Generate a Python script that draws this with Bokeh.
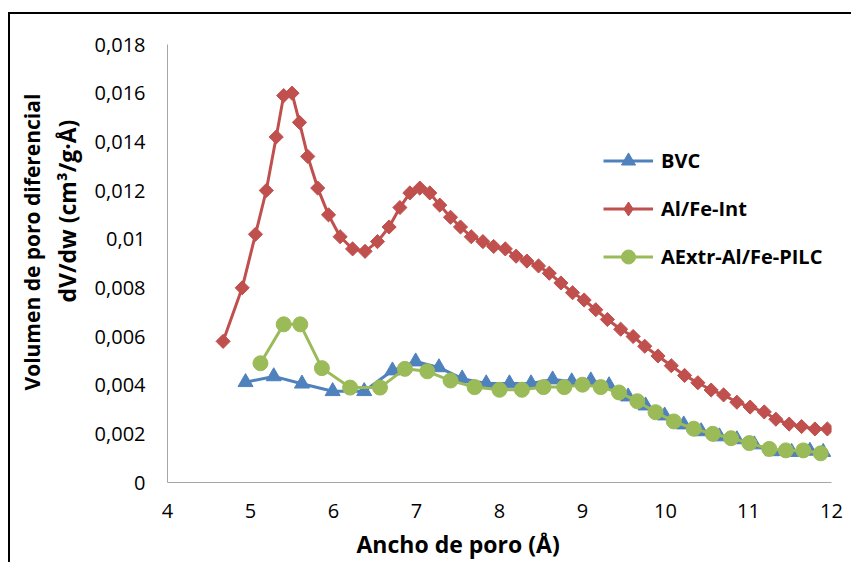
import math

from bokeh.plotting import figure
from bokeh.models import Legend, LegendItem, Title, FixedTicker, Range1d
from bokeh.embed import file_html
from bokeh.resources import INLINE

# Pore width (Å) and differential pore volume dV/dw (cm³/g·Å)
bvc_x = [4.94, 5.28, 5.62, 5.99, 6.37, 6.71, 6.99, 7.27, 7.55, 7.84, 8.12, 8.38, 8.64, 8.87,
         9.10, 9.32, 9.55, 9.76, 9.99, 10.22, 10.43, 10.65, 10.86, 11.07, 11.29, 11.52, 11.74, 11.90]
bvc_y = [0.00412, 0.00436, 0.00406, 0.00375, 0.00375, 0.00460, 0.00497, 0.00473, 0.00427, 0.00407,
         0.00407, 0.00407, 0.00423, 0.00415, 0.00419, 0.00399, 0.00353, 0.00316, 0.00275, 0.00238,
         0.00210, 0.00189, 0.00177, 0.00156, 0.00128, 0.00125, 0.00130, 0.00125]

int_x = [4.67, 4.90, 5.06, 5.19, 5.31, 5.40, 5.50, 5.59, 5.69, 5.81, 5.94, 6.08, 6.23, 6.38,
         6.53, 6.67, 6.80, 6.92, 7.04, 7.16, 7.28, 7.41, 7.53, 7.66, 7.80, 7.93, 8.07, 8.20,
         8.33, 8.47, 8.60, 8.74, 8.88, 9.02, 9.16, 9.30, 9.46, 9.61, 9.75, 9.91, 10.07, 10.23,
         10.39, 10.55, 10.70, 10.86, 11.02, 11.19, 11.33, 11.49, 11.64, 11.80, 11.95]
int_y = [0.0058, 0.0080, 0.0102, 0.0120, 0.0142, 0.0159, 0.0160, 0.0148, 0.0134, 0.0121, 0.0110,
         0.0101, 0.0096, 0.0095, 0.0099, 0.0105, 0.0113, 0.0119, 0.0121, 0.0119, 0.0114, 0.0109,
         0.0105, 0.0101, 0.0099, 0.0097, 0.0096, 0.0093, 0.0091, 0.0089, 0.0086, 0.0082, 0.0078,
         0.0075, 0.0071, 0.0067, 0.0063, 0.0060, 0.0056, 0.0052, 0.0048, 0.0044, 0.0041, 0.0038,
         0.0036, 0.0033, 0.0031, 0.0029, 0.0026, 0.0024, 0.0023, 0.0022, 0.0022]

pilc_x = [5.12, 5.40, 5.60, 5.86, 6.20, 6.56, 6.86, 7.13, 7.41, 7.70, 8.00, 8.27, 8.53, 8.78,
          9.00, 9.22, 9.44, 9.66, 9.88, 10.10, 10.34, 10.57, 10.79, 11.01, 11.25, 11.45, 11.66, 11.87]
pilc_y = [0.00490, 0.00650, 0.00650, 0.00470, 0.00390, 0.00390, 0.00467, 0.00457, 0.00419, 0.00392,
          0.00381, 0.00381, 0.00392, 0.00392, 0.00402, 0.00392, 0.00370, 0.00334, 0.00289, 0.00251,
          0.00221, 0.00200, 0.00182, 0.00162, 0.00138, 0.00132, 0.00132, 0.00120]

series_names = ["BVC", "Al/Fe-Int", "AExtr-Al/Fe-PILC"]
series_colors = ["#4F81BD", "#C0504D", "#9BBB59"]

x_ticks = [4, 5, 6, 7, 8, 9, 10, 11, 12]
y_ticks = [0.0, 0.002, 0.004, 0.006, 0.008, 0.01, 0.012, 0.014, 0.016, 0.018]
y_tick_labels = ["0", "0,002", "0,004", "0,006", "0,008", "0,01", "0,012", "0,014", "0,016", "0,018"]

x_title = "Ancho de poro (Å)"
y_title_lines = ["Volumen de poro diferencial", "dV/dw (cm³/g·Å)"]

FONT = "Open Sans"

p = figure(
    width=843, height=550,
    output_backend="svg", toolbar_location=None,
    x_range=Range1d(4, 12), y_range=Range1d(0, 0.018),
    min_border_left=157, min_border_right=22, min_border_top=30, min_border_bottom=82,
    background_fill_color="white", border_fill_color="white",
)
p.styles = {
    "margin-left": "8px", "margin-top": "12px",
    "border-left": "2px solid #000000", "border-top": "2px solid #000000",
}
p.outline_line_color = None
p.grid.visible = False

for ax in (p.xaxis[0], p.yaxis[0]):
    ax.axis_line_color = "#A6A6A6"
    ax.axis_line_width = 1
    ax.major_tick_line_color = None
    ax.minor_tick_line_color = None
    ax.major_tick_out = 0
    ax.major_tick_in = 0
    ax.major_label_text_font = FONT
    ax.major_label_text_font_size = "20px"
    ax.major_label_text_color = "#000000"

p.xaxis.ticker = FixedTicker(ticks=x_ticks)
p.xaxis.major_label_standoff = 21
p.yaxis.ticker = FixedTicker(ticks=y_ticks)
p.yaxis.major_label_overrides = dict(zip(y_ticks, y_tick_labels))
p.yaxis.major_label_standoff = 22

# Series: line plus markers, drawn in legend order
line_kw = dict(line_width=3)
items = []

r1 = p.line(bvc_x, bvc_y, line_color=series_colors[0], **line_kw)
m1 = p.scatter(bvc_x, bvc_y, marker="triangle", size=15, fill_color=series_colors[0],
               line_color=series_colors[0])
items.append(LegendItem(label=series_names[0], renderers=[r1, m1]))

r2 = p.line(int_x, int_y, line_color=series_colors[1], **line_kw)
# diamond used for the legend swatch; it sits fully under the rotated squares
k2 = p.scatter(int_x, int_y, marker="diamond", size=12, fill_color=series_colors[1],
               line_color=series_colors[1])
m2 = p.scatter(int_x, int_y, marker="square", size=10, angle=math.pi / 4,
               fill_color=series_colors[1], line_color=series_colors[1])
items.append(LegendItem(label=series_names[1], renderers=[r2, k2]))

r3 = p.line(pilc_x, pilc_y, line_color=series_colors[2], **line_kw)
m3 = p.scatter(pilc_x, pilc_y, marker="circle", size=15, fill_color=series_colors[2],
               line_color=series_colors[2])
items.append(LegendItem(label=series_names[2], renderers=[r3, m3]))

legend = Legend(
    items=items, location=(436, 208),
    border_line_color=None, background_fill_alpha=0,
    padding=0, margin=0, spacing=13,
    glyph_width=50, glyph_height=35, label_height=35, label_standoff=8,
    label_text_font=FONT, label_text_font_style="bold", label_text_font_size="20px",
    label_text_color="#000000",
)
p.add_layout(legend)

# Axis titles as side panels
title_kw = dict(text_font=FONT, text_font_style="bold", text_color="#000000", align="left")
p.add_layout(Title(text=x_title, offset=189, standoff=10, text_font_size="23px", **title_kw),
             "below")
p.add_layout(Title(text=y_title_lines[1], offset=180, standoff=18, text_font_size="23px",
                   **title_kw), "left")
p.add_layout(Title(text=y_title_lines[0], offset=92, standoff=-12, text_font_size="21px",
                   **title_kw), "left")

open("out.html", "w").write(file_html(p, INLINE))
